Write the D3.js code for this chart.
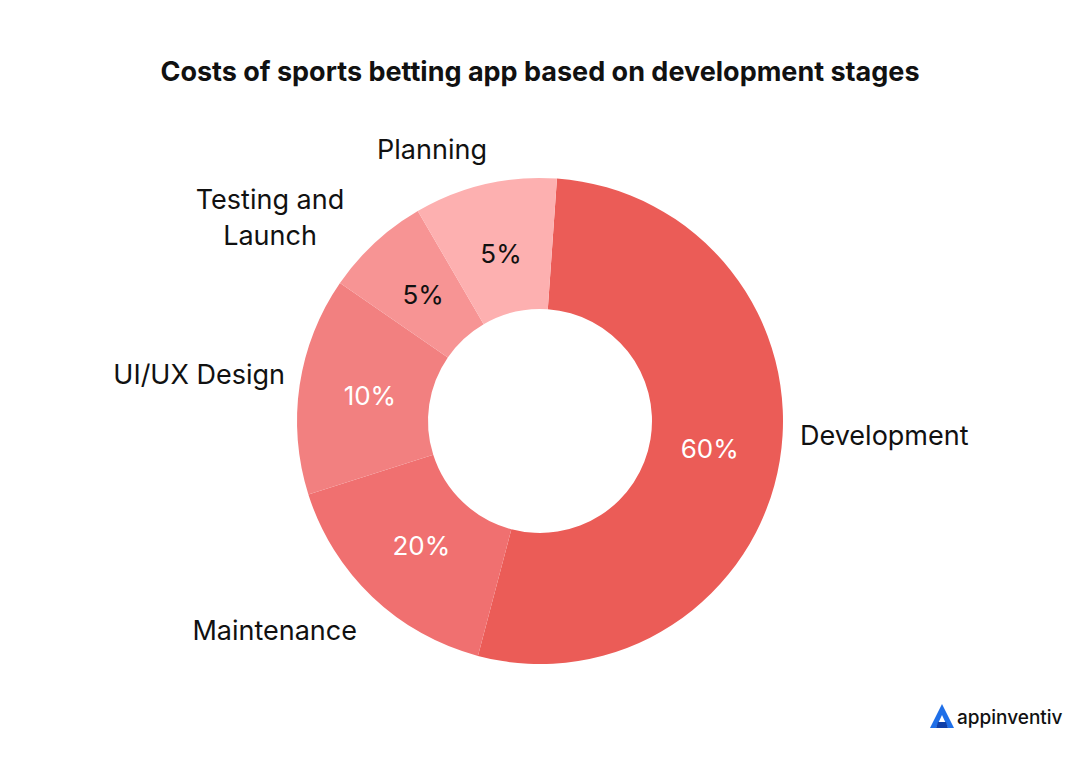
<!DOCTYPE html>
<html><head><meta charset="utf-8">
<script src="https://cdn.jsdelivr.net/npm/d3@7"></script>
<style>body{margin:0;background:#fff}text{font-family:Inter,"Noto Sans",sans-serif}</style>
</head><body><svg id="c" width="1080" height="763"></svg>
<script>
const categories = ["Development","Maintenance","UI/UX Design","Testing and Launch","Planning"];
const pctLabels = ["60%","20%","10%","5%","5%"];
const arcShares = [53,16,14.5,7,9.5]; // slice sizes as drawn
const colors = ["#EB5C57","#F07070","#F28080","#F79494","#FDB0B0"];
const pctColors = ["#fff","#fff","#fff","#111","#111"];

const svg = d3.select("#c");
svg.append("rect").attr("width",1080).attr("height",763).attr("fill","#fff");
svg.append("text").attr("x",540).attr("y",81).attr("text-anchor","middle")
  .attr("font-size",27).attr("font-weight",700).attr("fill","#111")
  .text("Costs of sports betting app based on development stages");

const cx=540, cy=421, R=243, r=112;
const start = 4*Math.PI/180;
const pie = d3.pie().sort(null).startAngle(start).endAngle(start+2*Math.PI);
const arcs = pie(arcShares);
const arc = d3.arc().innerRadius(r).outerRadius(R);
const cArc = d3.arc().innerRadius(172).outerRadius(172);
const g = svg.append("g").attr("transform",`translate(${cx},${cy})`);
g.selectAll("path").data(arcs).join("path").attr("d",arc).attr("fill",(d,i)=>colors[i]);
g.selectAll("text.p").data(arcs).join("text").attr("class","p")
  .attr("transform",d=>`translate(${cArc.centroid(d)})`).attr("text-anchor","middle").attr("dy","0.35em")
  .attr("font-size",26).attr("fill",(d,i)=>pctColors[i]).text((d,i)=>pctLabels[i]);

const labelPos = [
  {x:800,y:436,a:"start",lines:[categories[0]]},
  {x:357,y:631,a:"end",lines:[categories[1]]},
  {x:285,y:375,a:"end",lines:[categories[2]]},
  {x:270,y:200,a:"middle",lines:["Testing and","Launch"]},
  {x:432,y:150,a:"middle",lines:[categories[4]]}
];
labelPos.forEach(l=>{
  const t=svg.append("text").attr("x",l.x).attr("y",l.y+9).attr("text-anchor",l.a)
    .attr("font-size",27).attr("fill","#111");
  l.lines.forEach((s,k)=>t.append("tspan").attr("x",l.x).attr("dy",k?36:0).text(s));
});

// logo
const lg = svg.append("g").attr("transform","translate(930,704)");
lg.append("path").attr("d","M12 0 L24 24 L18 24 L12 11 L6 24 L0 24 Z").attr("fill","#1f6fe8");
lg.append("path").attr("d","M8 18 L16 18 L18 24 L6 24 Z").attr("fill","#0f3fa8");
svg.append("text").attr("x",957).attr("y",724).attr("font-size",19).attr("font-weight",500)
  .attr("fill","#111").text("appinventiv");
</script></body></html>
